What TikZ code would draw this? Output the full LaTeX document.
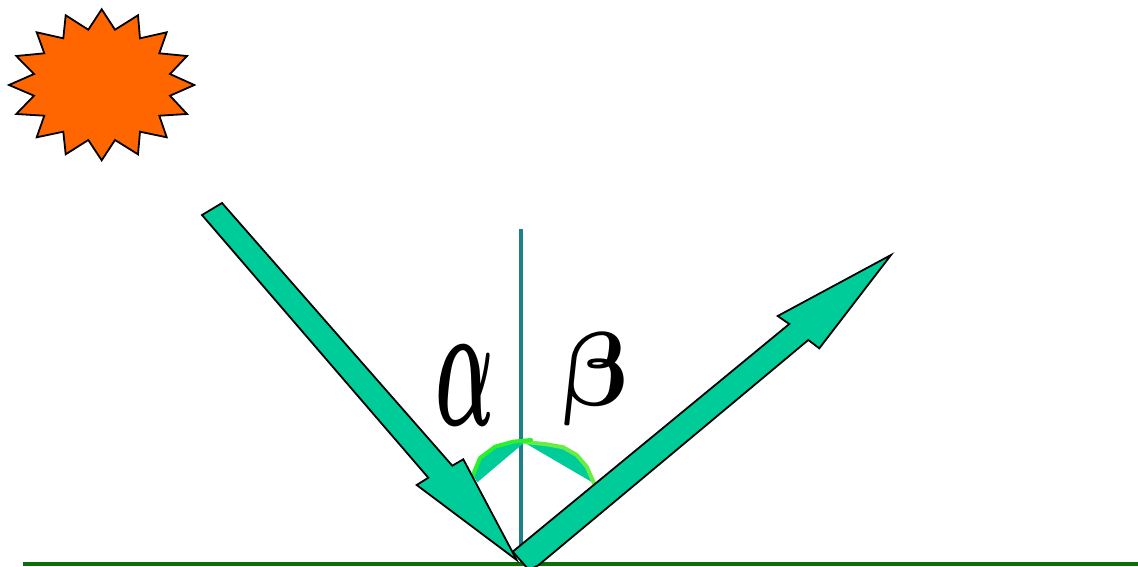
\documentclass[tikz,border=0pt]{standalone}
\usepackage{fontspec}
\setmainfont{Liberation Serif}
\usepackage{xcolor}
\definecolor{sunorange}{HTML}{FF6600}
\definecolor{rayteal}{HTML}{00CC99}
\definecolor{normalteal}{HTML}{1F808C}
\definecolor{groundgreen}{HTML}{0A6E0A}
\definecolor{arcgreen}{HTML}{2CF02C}
\definecolor{arclight}{HTML}{66EE44}
\begin{document}
\begin{tikzpicture}[x=1pt, y=-1pt,
    ray/.style={draw=black, line width=1.8pt, line join=miter, fill=rayteal},
    sunshape/.style={draw=black, line width=1.8pt, line join=miter, fill=sunorange},
    wedge/.style={fill=rayteal},
    angmark/.style={line width=4pt, line cap=round, line join=round},
    anglabel/.style={font=\fontsize{10}{10}\selectfont, inner sep=0pt}
]
\useasboundingbox (0,0) rectangle (1138,566);

%% Sun
\draw[sunshape] (101.7,9.3) -- (115,29.7) -- (138,15.3) -- (140,38.3) -- (166.7,32.3)
    -- (159.3,53.3) -- (187,56) -- (170,74) -- (194.3,85) -- (170,95.7) -- (187,114)
    -- (159.3,115.7) -- (166.7,137.3) -- (140,131.7) -- (138,154.3) -- (115,140)
    -- (101.7,160.3) -- (88.3,140) -- (65.7,154.3) -- (63.3,131.7) -- (36.7,137.3)
    -- (44.3,115.7) -- (16.3,114) -- (34,95.7) -- (9,85) -- (34,74) -- (16.3,56)
    -- (44.3,53.3) -- (36.7,32.3) -- (63.3,38.3) -- (65.7,15.3) -- (88.3,29.7) -- cycle;

%% Ground and normal
\coordinate (groundL) at (23,564);
\coordinate (groundR) at (1138,564);
\coordinate (normalT) at (521,229);
\coordinate (normalB) at (521,556);
\draw[groundgreen, line width=4pt] (groundL) -- (groundR);
\draw[normalteal, line width=4.5pt] (normalT) -- (normalB);

%% Angle marks
\fill[wedge] (525,442) -- (477.3,482.3) -- (473,475) -- (480,458) -- (495,446.7) -- (513,441.7) -- cycle;
\fill[wedge] (525,443) -- (594,483.3) -- (586.7,466.7) -- (576.7,455) -- (563.3,447.3) -- (546.7,444.3) -- cycle;
\draw[arclight, angmark] (525,442) -- (546.7,444.3) -- (563.3,447.3) -- (576.7,455) -- (586.7,466.7) -- (594,483.3);
\draw[arcgreen, angmark] (473,475) -- (480,458) -- (495,446.7) -- (513,441.7) -- (531,440);

%% Rays
\draw[ray] (202,215) -- (222,203) -- (452.3,465.7) -- (463.3,459.3) -- (516.7,560)
    -- (416.7,485) -- (428.3,477.7) -- cycle;
\draw[ray] (512.7,551.7) -- (789.3,324) -- (777.7,316) -- (891,255) -- (819.3,348.3)
    -- (808.3,340) -- (538.3,565.3) -- (529,570) -- cycle;

%% Labels
\node[anglabel, xscale=7.8, yscale=18] (alpha) at (465,385.5) {{\boldmath$\alpha$}};
\node[anglabel, xslant=-0.14, scale=10.5] (beta) at (593,379.5) {{\boldmath$\beta$}};

\end{tikzpicture}
\end{document}
